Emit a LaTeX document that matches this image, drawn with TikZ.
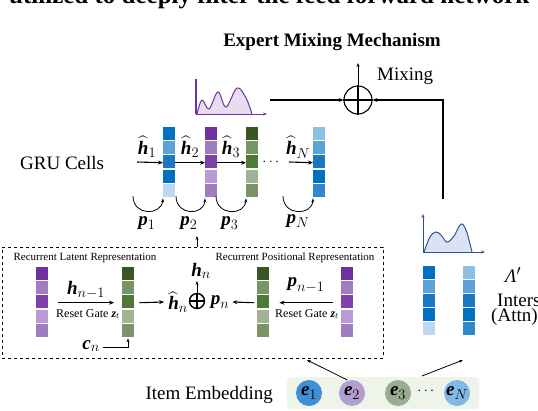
\documentclass[tikz,border=0pt]{standalone}
\usepackage{amsmath}
\usepackage{fontspec}
\setmainfont{Liberation Serif}
\usetikzlibrary{arrows.meta}
\newcommand{\bv}[1]{\text{\bfseries\itshape #1}}
\newcommand{\fs}[1]{\fontsize{#1}{#1}\selectfont}
\definecolor{bA}{HTML}{0070C0}
\definecolor{bB}{HTML}{5BA3D9}
\definecolor{bC}{HTML}{1A78C2}
\definecolor{bD}{HTML}{BDD7EE}
\definecolor{bE}{HTML}{8EC0E4}
\definecolor{bF}{HTML}{2F88CC}
\definecolor{pA}{HTML}{7030A0}
\definecolor{pB}{HTML}{A07CC0}
\definecolor{pC}{HTML}{8040A8}
\definecolor{pD}{HTML}{B89AD6}
\definecolor{gA}{HTML}{385723}
\definecolor{gB}{HTML}{7A9467}
\definecolor{gC}{HTML}{4E7A35}
\definecolor{gD}{HTML}{A0B394}
\definecolor{chartP}{HTML}{7030A0}
\definecolor{chartPf}{HTML}{E8DDF0}
\definecolor{chartB}{HTML}{2F5597}
\definecolor{chartBf}{HTML}{DAE3F3}
\definecolor{embbg}{HTML}{EEF4EA}
\definecolor{eA}{HTML}{3F8FD2}
\definecolor{eB}{HTML}{B39DD1}
\definecolor{eC}{HTML}{97AD8E}
\definecolor{eD}{HTML}{82B8E4}
\newcommand{\cellblk}[5]{%
  \node[minimum width=12pt, minimum height=#5pt, inner sep=0, anchor=north west] (#1) at (#2,#3) {};
  \foreach \c [count=\i from 0] in {#4} {\fill[\c] (#2,#3+\i*#5/5) rectangle ++(12,#5/5-1.2);}}
\begin{document}
\begin{tikzpicture}[x=1pt,y=-1pt,
  arr/.style={-{Stealth[length=5pt,width=4pt]}, line width=1.1pt},
  thin arr/.style={-{Stealth[length=4pt,width=3pt]}, line width=0.8pt},
  lbl/.style={font=\fs{19}, inner sep=0},
  small/.style={font=\fs{11}, inner sep=0},
  gate/.style={font=\fs{12}, inner sep=0}]
\useasboundingbox (0,0) rectangle (538,410);

% cut-off top text
\node[font=\fs{25}\bfseries, anchor=base west, inner sep=0] (toptext) at (9,3) {utilized to deeply filter the feed forward network};

% title
\node[font=\fs{19}\bfseries, inner sep=0] (title) at (332,42) {Expert Mixing Mechanism};

% mixing
\node[circle, draw, line width=1.1pt, minimum size=28pt, inner sep=0] (mix) at (358,100) {};
\draw[line width=1.1pt] (mix.north) -- (mix.south) (mix.west) -- (mix.east);
\coordinate (mixtop) at (358,63);
\draw[thin arr] (mix.north) -- (mixtop);
\node[lbl, anchor=west] (mixlbl) at (377,76) {Mixing};
\coordinate (mixL) at (270,100);
\coordinate (attnTop) at (443,199);
\draw[arr] (mixL) -- (mix.west);
\draw[arr] (attnTop) -- (443,100) -- (mix.east);

% purple chart
\fill[chartPf] plot[smooth, tension=0.6] coordinates {(197,114) (202,100) (209,109) (218,92) (226,107) (237,88) (246,98) (252,114)} -- cycle;
\draw[chartP, line width=1pt] plot[smooth, tension=0.6] coordinates {(197,114) (202,100) (209,109) (218,92) (226,107) (237,88) (246,98) (252,114)};
\draw[chartP, line width=1.2pt] (196,79) -- (196,114);
\draw[chartP, line width=1pt, -{Stealth[length=4pt,width=3pt]}] (196,114) -- (267,114);

% GRU cells
\node[lbl, anchor=west] (gru) at (20,163) {GRU Cells};
\cellblk{B1}{163}{127}{bA,bB,bC,bA,bD}{71}
\cellblk{B2}{205}{127}{pA,pB,pC,pD,pB}{71}
\cellblk{B3}{246}{127}{gA,gB,gC,gD,gB}{71}
\cellblk{BN}{313}{127}{bE,bB,bC,bA,bF}{71}
\node[font=\fs{14}, inner sep=0] (dots1) at (272,162) {$\cdots$};

\coordinate (h1s) at (137,162);
\coordinate (hNs) at (289,162);
\draw[arr] (h1s) -- (B1.west);
\draw[arr] (B1.east) -- (B2.west);
\draw[arr] (B2.east) -- (B3.west);
\draw[arr] (hNs) -- (BN.west);
\node[lbl] (lh1) at (147,147) {$\widehat{\bv{h}}_1$};
\node[lbl] (lh2) at (190,147) {$\widehat{\bv{h}}_2$};
\node[lbl] (lh3) at (231,147) {$\widehat{\bv{h}}_3$};
\node[lbl] (lhN) at (298,147) {$\widehat{\bv{h}}_N$};

\draw[thin arr] (133,196) .. controls (133,216) and (161,216) .. (B1.south west);
\draw[thin arr] (176,196) .. controls (176,216) and (204,216) .. (B2.south west);
\draw[thin arr] (216,196) .. controls (216,216) and (245,216) .. (B3.south west);
\draw[thin arr] (283,196) .. controls (283,216) and (312,216) .. (BN.south west);
\node[lbl] (lp1) at (147,223) {$\bv{p}_1$};
\node[lbl] (lp2) at (189,223) {$\bv{p}_2$};
\node[lbl] (lp3) at (230,223) {$\bv{p}_3$};
\node[lbl] (lpN) at (298,221) {$\bv{p}_N$};

% dashed box
\node[draw, dashed, line width=0.8pt, minimum width=381pt, minimum height=111pt, inner sep=0, anchor=north west] (box) at (2,247) {};
\coordinate (boxup) at (197,236);
\draw[thin arr] (box.north -| boxup) -- (boxup);
\node[small] (rlr) at (85,258) {Recurrent Latent Representation};
\node[small] (rpr) at (295,258) {Recurrent Positional Representation};
\cellblk{LP}{36}{267}{pA,pB,pC,pD,pB}{71}
\cellblk{LG}{122}{267}{gA,gB,gC,gD,gB}{71}
\cellblk{RG}{257}{267}{gA,gB,gC,gD,gB}{71}
\cellblk{RP}{341}{267}{pA,pB,pC,pD,pB}{71}
\draw[arr] ([xshift=10pt]LP.east) -- ([xshift=-8pt]LG.west);
\node[lbl] (hn1) at (86,290) {$\bv{h}_{n-1}$};
\node[gate] (rg1) at (88,314) {Reset Gate $\bv{z}_t$};
\node[lbl] (cn) at (91,346) {$\bv{c}_n$};
\coordinate (cnc) at (128,347);
\draw[thin arr] ([xshift=3pt]cn.east |- cnc) -- (cnc) -- (cnc |- LG.south);
\node[lbl] (hhat) at (178,302) {$\widehat{\bv{h}}_n$};
\node[circle, draw, line width=1.4pt, minimum size=15pt, inner sep=0] (op) at (197,301) {};
\draw[line width=1.4pt] (op.north) -- (op.south) (op.west) -- (op.east);
\node[lbl] (pn) at (220,302) {$\bv{p}_n$};
\node[lbl] (hn) at (201,271) {$\bv{h}_n$};
\coordinate (hnb) at (197,281);
\draw[thin arr] (op.north) -- (hnb);
\draw[arr] ([xshift=5pt]LG.east) -- ([xshift=-4pt]hhat.west);
\draw[arr] ([xshift=-3pt]RG.west) -- ([xshift=3pt]pn.east);
\draw[arr] ([xshift=-8pt]RP.west) -- ([xshift=10pt]RG.east);
\node[lbl] (pn1) at (306,285) {$\bv{p}_{n-1}$};
\node[gate] (rg2) at (307,314) {Reset Gate $\bv{z}_t$};

% attention chart
\fill[chartBf] plot[smooth, tension=0.6] coordinates {(424,252) (430,237) (436,232) (441,235) (447,242) (454,236) (461,224) (466,230) (470,244) (472,252)} -- cycle;
\draw[chartB, line width=1pt] plot[smooth, tension=0.6] coordinates {(424,252) (430,237) (436,232) (441,235) (447,242) (454,236) (461,224) (466,230) (470,244) (472,252)};
\draw[chartB, line width=1pt, -{Stealth[length=4pt,width=3pt]}] (423,252) -- (423,214);
\draw[chartB, line width=1pt, -{Stealth[length=4pt,width=3pt]}] (423,252) -- (485,252);
\cellblk{AL}{423}{266}{bA,bB,bC,bA,bD}{70}
\cellblk{AR}{463}{266}{bE,bB,bC,bA,bF}{70}
\node[lbl] (lam) at (513,275) {\textit{Λ}$'$};
\node[lbl, anchor=west] (inter) at (497,300) {Intersection};
\node[lbl, anchor=west] (attn) at (491,317) {(Attn)};

% item embedding
\node[lbl, anchor=east] (iemb) at (273,395) {Item Embedding};
\node[fill=embbg, rounded corners=4pt, minimum width=192pt, minimum height=32pt, inner sep=0, anchor=north west] (embbox) at (287,377) {};
\node[circle, fill=eA, minimum size=26pt, inner sep=0, font=\fs{19}] (e1) at (309,393) {$\bv{e}_1$};
\node[circle, fill=eB, minimum size=26pt, inner sep=0, font=\fs{19}] (e2) at (352,393) {$\bv{e}_2$};
\node[circle, fill=eC, minimum size=26pt, inner sep=0, font=\fs{19}] (e3) at (398,393) {$\bv{e}_3$};
\node[font=\fs{14}, inner sep=0] (dots2) at (427,391) {$\cdots$};
\node[circle, fill=eD, minimum size=26pt, inner sep=0, font=\fs{19}] (eN) at (457,393) {$\bv{e}_N$};
\coordinate (embL) at (307,360);
\coordinate (embR) at (463,360);
\draw[thin arr] (e2.north -| 347,0) -- (embL);
\draw[thin arr] (422,376) -- (embR);
\end{tikzpicture}
\end{document}
